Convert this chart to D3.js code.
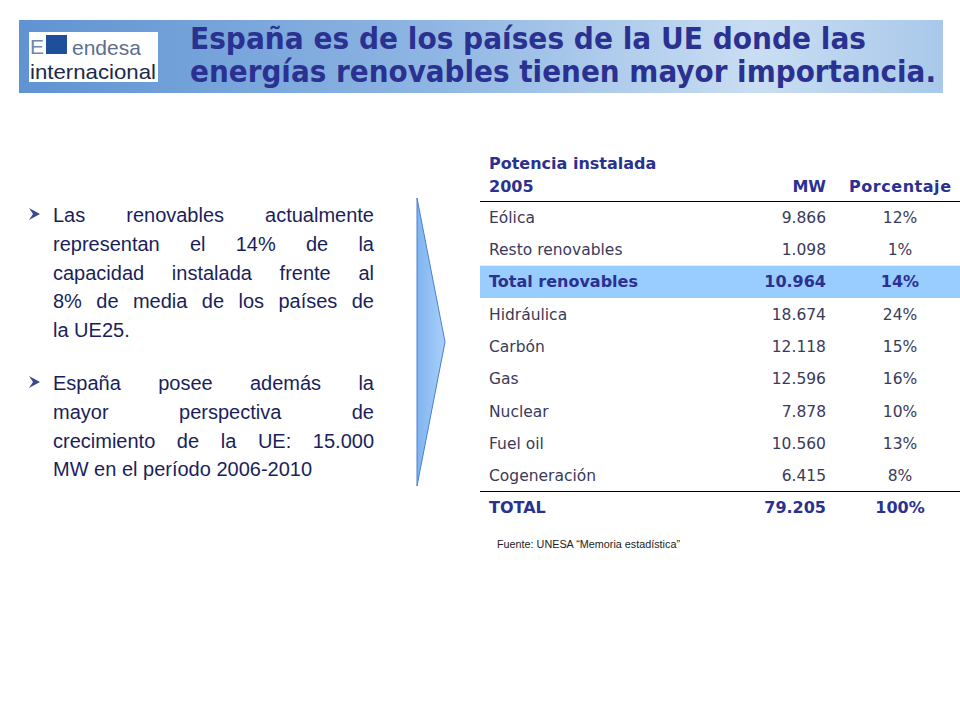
<!DOCTYPE html><html><head><meta charset="utf-8">
<script src="https://cdn.jsdelivr.net/npm/d3@7"></script>
<style>body{margin:0;background:#fff}svg{display:block}</style></head><body>
<script>
const titleLines=["España es de los países de la UE donde las","energías renovables tienen mayor importancia."];
const categories=["Eólica","Resto renovables","Total renovables","Hidráulica","Carbón","Gas","Nuclear","Fuel oil","Cogeneración"];
const mwValues=["9.866","1.098","10.964","18.674","12.118","12.596","7.878","10.560","6.415"];
const pctValues=["12%","1%","14%","24%","15%","16%","10%","13%","8%"];
const totalRow=["TOTAL","79.205","100%"];
const highlighted="Total renovables";
const bullets=[
 [["Las","renovables","actualmente"],["representan","el","14%","de","la"],["capacidad","instalada","frente","al"],["8%","de","media","de","los","países","de"],["la UE25."]],
 [["España","posee","además","la"],["mayor","perspectiva","de"],["crecimiento","de","la","UE:","15.000"],["MW en el período 2006-2010"]]
];
const svg=d3.select("body").append("svg").attr("width",960).attr("height",720);
const defs=svg.append("defs");
const g1=defs.append("linearGradient").attr("id","hdr");
[[0,"#5f93d2"],[0.45,"#8fb6e3"],[0.8,"#c9def2"],[1,"#a9c8ea"]].forEach(([o,c])=>g1.append("stop").attr("offset",o).attr("stop-color",c));
const g2=defs.append("linearGradient").attr("id","arr");
[[0,"#7fb4ef"],[1,"#a9d0fb"]].forEach(([o,c])=>g2.append("stop").attr("offset",o).attr("stop-color",c));
svg.append("rect").attr("x",19).attr("y",20).attr("width",924).attr("height",73).attr("fill","url(#hdr)");
svg.append("rect").attr("x",29).attr("y",32).attr("width",129).attr("height",50).attr("fill","#fff");
svg.append("text").attr("x",30).attr("y",54).attr("font-family","Liberation Sans").attr("font-size",21).attr("fill","#6e8aa8").text("E");
svg.append("rect").attr("x",46).attr("y",35).attr("width",21).attr("height",19).attr("fill","#1f4f9a");
svg.append("text").attr("x",72).attr("y",55).attr("font-family","Liberation Sans").attr("font-size",21).attr("fill","#5b6f8f").text("endesa");
svg.append("text").attr("x",30).attr("y",79).attr("font-family","Liberation Sans").attr("font-size",21).attr("fill","#1a2a4a").attr("textLength",126).attr("lengthAdjust","spacingAndGlyphs").text("internacional");
titleLines.forEach((t,i)=>svg.append("text").attr("x",190).attr("y",49+i*33).attr("font-family","DejaVu Sans").attr("font-weight","bold").attr("font-size",30).attr("fill","#2b3190").attr("textLength",i?746:676).attr("lengthAdjust","spacingAndGlyphs").text(t));
// arrow
svg.append("path").attr("d","M417,198 L445,342 L417,486 Z").attr("fill","url(#arr)").attr("stroke","#4a7fd0").attr("stroke-width",1);
// bullets
const bx0=53,bx1=374,lh=28.8;let y=222;
bullets.forEach((b,bi)=>{
 svg.append("path").attr("d",`M29,${y-14} L40,${y-8} L29,${y-2} L33,${y-8}Z`).attr("fill","#3a4a8a");
 b.forEach((words,li)=>{
  const last=li===b.length-1;
  if(last){svg.append("text").attr("x",bx0).attr("y",y).attr("font-family","Liberation Sans").attr("font-size",20).attr("fill","#1a1f5c").text(words.join(" "));}
  else{
   const ts=words.map(w=>svg.append("text").attr("y",y).attr("font-family","Liberation Sans").attr("font-size",20).attr("fill","#1a1f5c").text(w));
   const ws=ts.map(t=>t.node().getComputedTextLength());
   const gap=(bx1-bx0-d3.sum(ws))/(words.length-1);let x=bx0;
   ts.forEach((t,i)=>{t.attr("x",x);x+=ws[i]+gap;});
  }
  y+=lh;
 });
 y+=24;
});
// table
const tf="DejaVu Sans",col="#2b3190",rc="#3a3a5a";
const yb=d3.scaleBand().domain(categories).range([201,492]);
const xName=489,xMW=826,xPct=900;
const T=(x,y,t,o={})=>svg.append("text").attr("x",x).attr("y",y).attr("font-family",tf).attr("font-size",o.s||15.5).attr("font-weight",o.b?"bold":"normal").attr("fill",o.c||rc).attr("text-anchor",o.a||"start").text(t);
T(xName,169,"Potencia instalada",{b:1,c:col,s:16});T(xName,192,"2005",{b:1,c:col,s:16});
T(xMW,192,"MW",{b:1,c:col,a:"end",s:16});T(xPct,192,"Porcentaje",{b:1,c:col,a:"middle",s:16}).attr("textLength",102);
svg.append("line").attr("x1",480).attr("x2",960).attr("y1",201.5).attr("y2",201.5).attr("stroke","#000");
categories.forEach((c,i)=>{
 const yy=yb(c),h=yb.bandwidth(),hl=c===highlighted,ty=yy+h/2+5.5;
 if(hl)svg.append("rect").attr("x",480).attr("y",yy).attr("width",480).attr("height",h).attr("fill","#99ccff");
 const o=hl?{b:1,c:col,s:16}:{};
 T(xName,ty,c,o);T(xMW,ty,mwValues[i],{...o,a:"end"});T(xPct,ty,pctValues[i],{...o,a:"middle"});
});
svg.append("line").attr("x1",480).attr("x2",960).attr("y1",491.5).attr("y2",491.5).attr("stroke","#000");
T(xName,513,totalRow[0],{b:1,c:col,s:16});T(xMW,513,totalRow[1],{b:1,c:col,a:"end",s:16});T(xPct,513,totalRow[2],{b:1,c:col,a:"middle",s:16});
T(497,548,"Fuente: UNESA “Memoria estadística”",{s:10,c:"#222"}).attr("font-family","Liberation Sans").attr("textLength",183).attr("lengthAdjust","spacingAndGlyphs");
</script></body></html>
